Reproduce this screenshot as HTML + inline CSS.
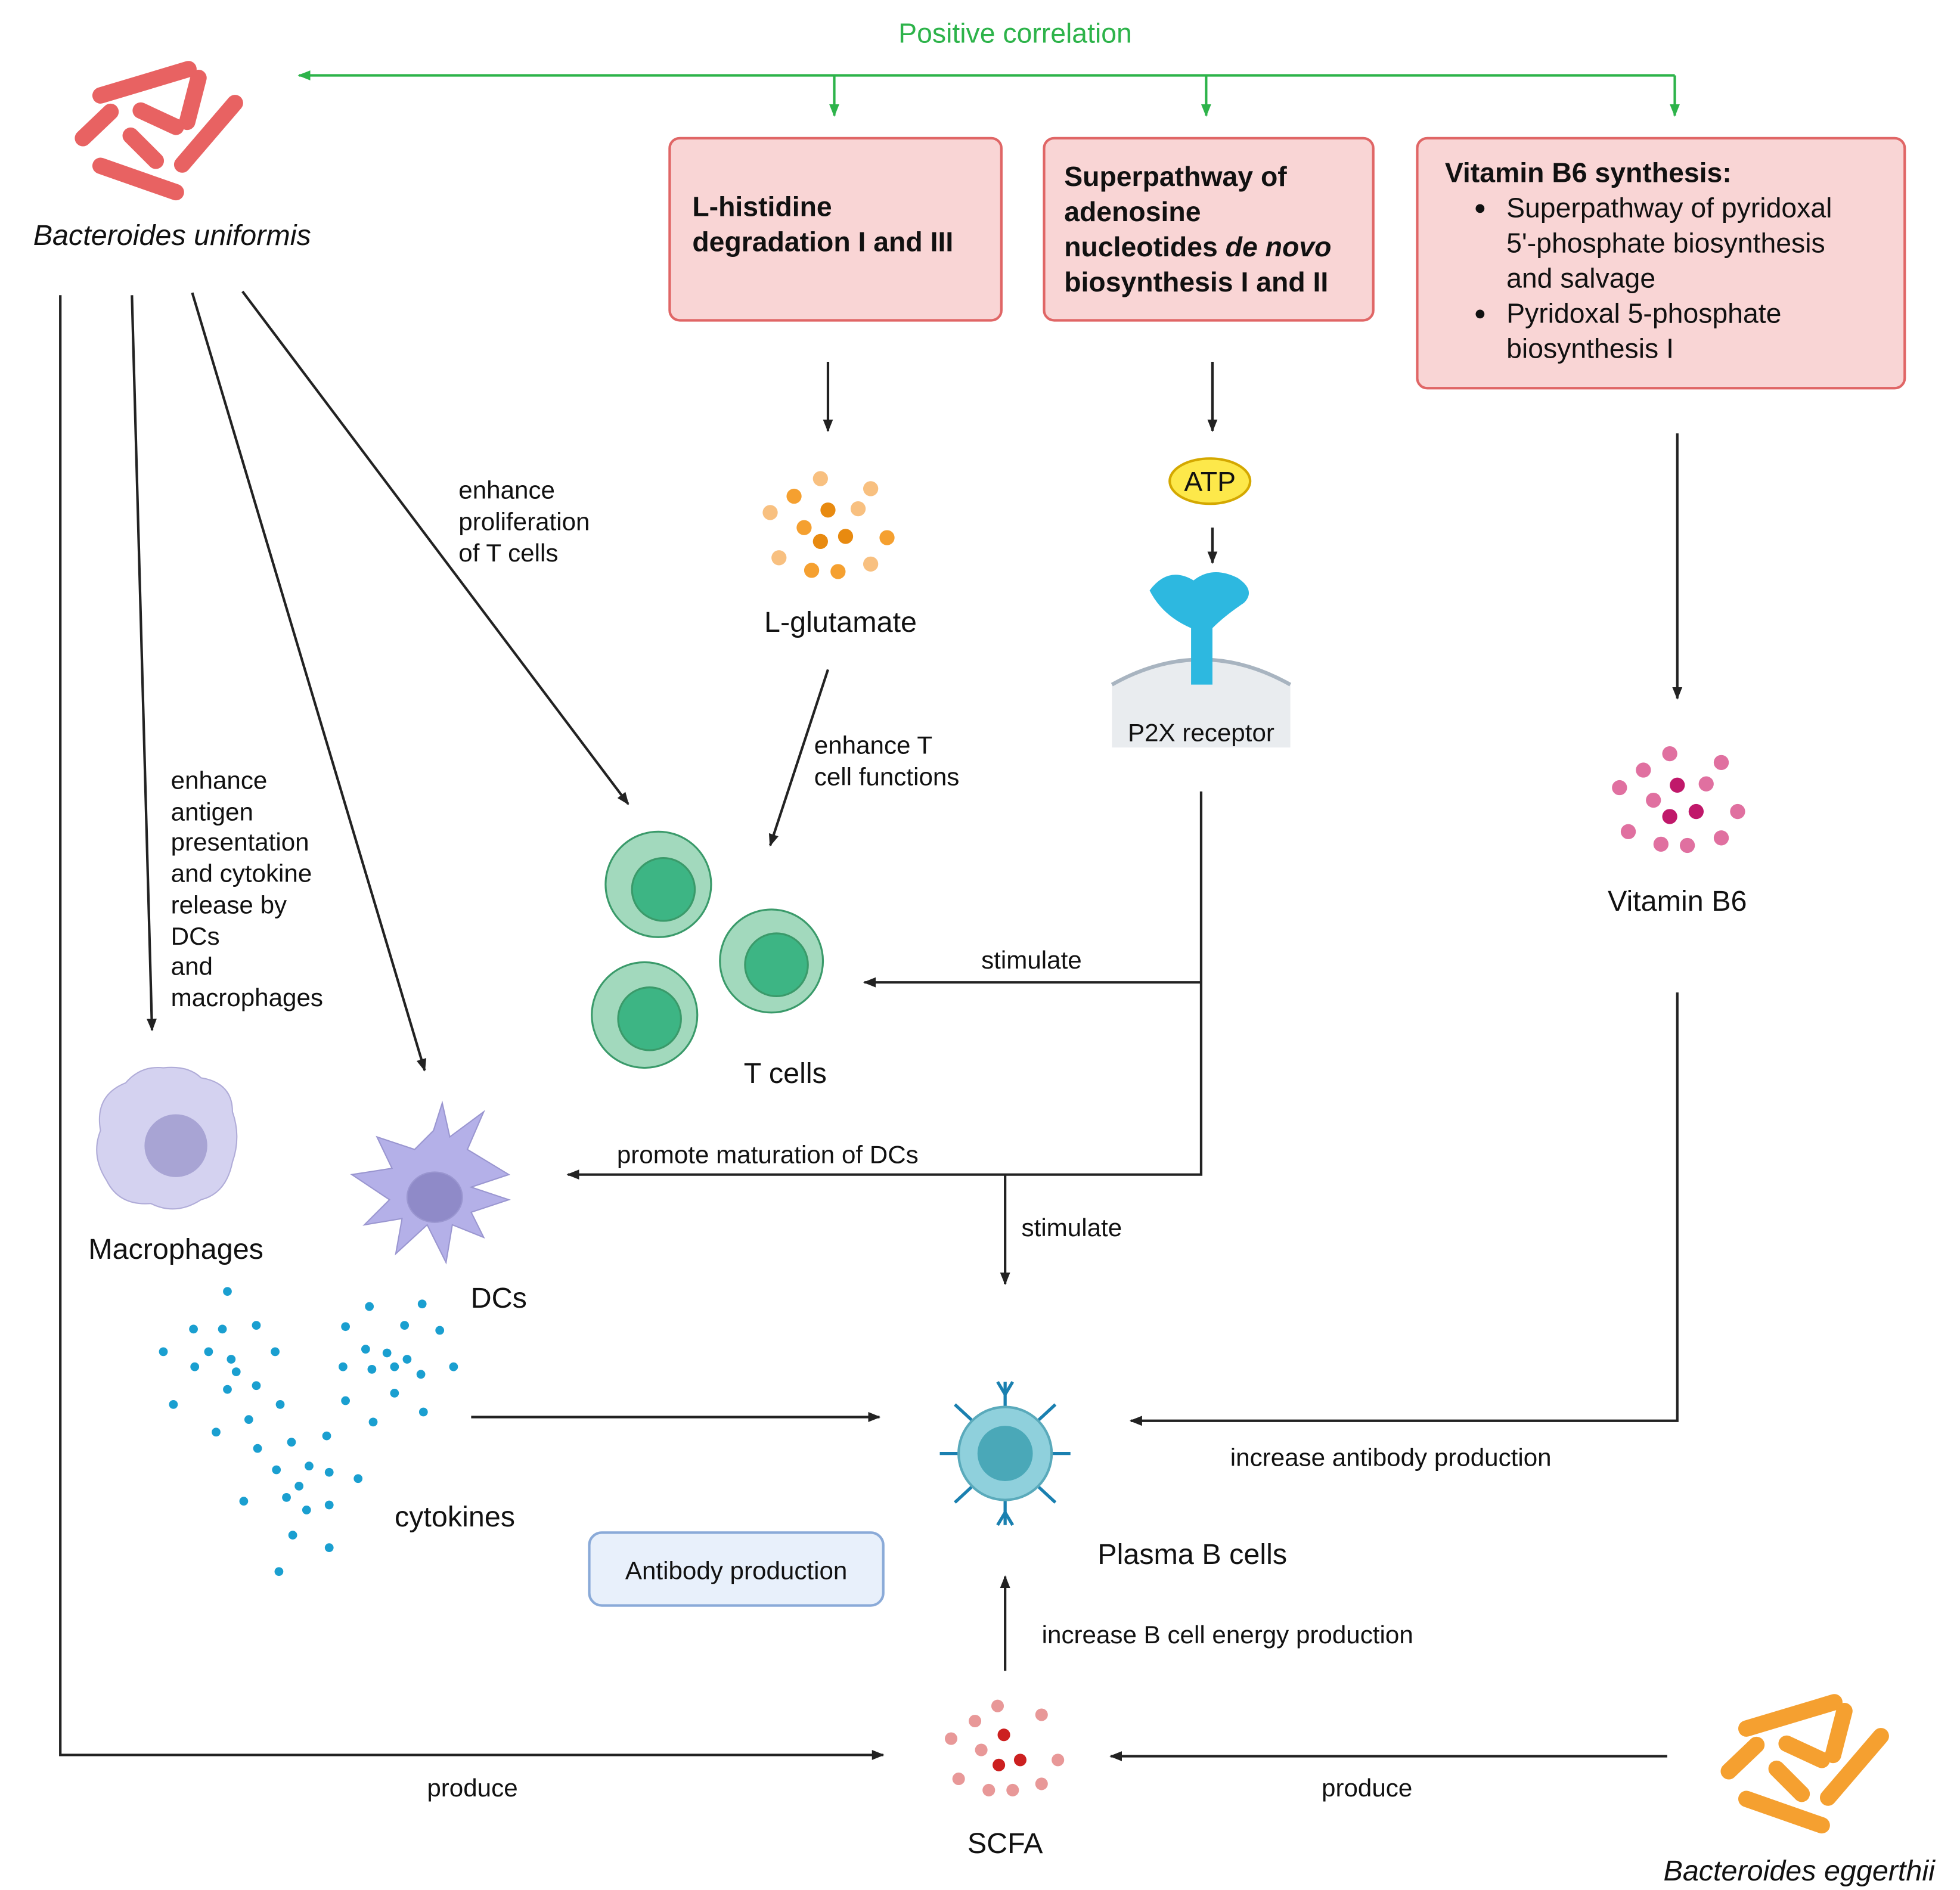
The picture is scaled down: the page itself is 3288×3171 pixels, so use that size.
<!DOCTYPE html>
<html><head><meta charset="utf-8"><style>html,body{margin:0;padding:0;background:#fff}svg{display:block}text{font-family:"Liberation Sans",sans-serif}</style></head><body>
<svg width="3288" height="3171" viewBox="0 0 1560 1504.5" xmlns="http://www.w3.org/2000/svg">
<defs>
<marker id="a" markerWidth="10" markerHeight="10" refX="9" refY="5" orient="auto" markerUnits="userSpaceOnUse"><path d="M0,1 L10,5 L0,9 Z" fill="#222"/></marker>
<marker id="g" markerWidth="10" markerHeight="10" refX="9" refY="5" orient="auto" markerUnits="userSpaceOnUse"><path d="M0,1 L10,5 L0,9 Z" fill="#2db34a"/></marker>
<g id="bac" stroke-linecap="round" stroke-width="13">
<line x1="168" y1="117" x2="303" y2="117" transform="rotate(0)"/>
</g>
</defs>
<rect width="1560" height="1504.5" fill="#fff"/>

<!-- green positive correlation -->
<text x="808" y="34" font-size="22" fill="#2db34a" text-anchor="middle">Positive correlation</text>
<g stroke="#2db34a" stroke-width="2" fill="none">
<line x1="1333" y1="60" x2="238" y2="60" marker-end="url(#g)"/>
<line x1="664" y1="60" x2="664" y2="92" marker-end="url(#g)"/>
<line x1="960" y1="60" x2="960" y2="92" marker-end="url(#g)"/>
<line x1="1333" y1="60" x2="1333" y2="92" marker-end="url(#g)"/>
</g>

<!-- bacteria -->
<g stroke="#e86262" stroke-width="13" stroke-linecap="round" fill="none">
<line x1="80" y1="76" x2="150" y2="55"/><line x1="158" y1="62" x2="149" y2="97"/>
<line x1="187" y1="82" x2="145" y2="131"/><line x1="66" y1="110" x2="88" y2="89"/>
<line x1="112" y1="88" x2="140" y2="101"/><line x1="104" y1="108" x2="124" y2="128"/>
<line x1="80" y1="132" x2="140" y2="153"/>
</g>
<text x="137" y="195" font-size="23" font-style="italic" text-anchor="middle" fill="#111">Bacteroides uniformis</text>
<g stroke="#f5a030" stroke-width="13" stroke-linecap="round" fill="none" transform="translate(1310,1300)">
<line x1="80" y1="76" x2="150" y2="55"/><line x1="158" y1="62" x2="149" y2="97"/>
<line x1="187" y1="82" x2="145" y2="131"/><line x1="66" y1="110" x2="88" y2="89"/>
<line x1="112" y1="88" x2="140" y2="101"/><line x1="104" y1="108" x2="124" y2="128"/>
<line x1="80" y1="132" x2="140" y2="153"/>
</g>
<text x="1432" y="1497" font-size="23" font-style="italic" text-anchor="middle" fill="#111">Bacteroides eggerthii</text>

<!-- boxes -->
<g fill="#f9d5d5" stroke="#e06666" stroke-width="2">
<rect x="533" y="110" width="264" height="145" rx="8"/>
<rect x="831" y="110" width="262" height="145" rx="8"/>
<rect x="1128" y="110" width="388" height="199" rx="8"/>
</g>
<g font-size="22" font-weight="bold" fill="#111">
<text x="551" y="172">L-histidine</text><text x="551" y="200">degradation I and III</text>
<text x="847" y="148">Superpathway of</text><text x="847" y="176">adenosine</text>
<text x="847" y="204">nucleotides <tspan font-style="italic">de novo</tspan></text><text x="847" y="232">biosynthesis I and II</text>
<text x="1150" y="145">Vitamin B6 synthesis:</text>
</g>
<g font-size="22" fill="#111">
<circle cx="1178" cy="166" r="3.5"/><circle cx="1178" cy="250" r="3.5"/>
<text x="1199" y="173">Superpathway of pyridoxal</text><text x="1199" y="201">5'-phosphate biosynthesis</text>
<text x="1199" y="229">and salvage</text><text x="1199" y="257">Pyridoxal 5-phosphate</text><text x="1199" y="285">biosynthesis I</text>
</g>

<!-- connectors -->
<g stroke="#222" stroke-width="2" fill="none">
<line x1="659" y1="288" x2="659" y2="343" marker-end="url(#a)"/>
<line x1="965" y1="288" x2="965" y2="343" marker-end="url(#a)"/>
<line x1="965" y1="420" x2="965" y2="448" marker-end="url(#a)"/>
<line x1="1335" y1="345" x2="1335" y2="556" marker-end="url(#a)"/>
<polyline points="48,235 48,1397 703,1397" marker-end="url(#a)"/>
<line x1="105" y1="235" x2="121" y2="820" marker-end="url(#a)"/>
<line x1="153" y1="233" x2="338" y2="852" marker-end="url(#a)"/>
<line x1="193" y1="232" x2="500" y2="640" marker-end="url(#a)"/>
<line x1="659" y1="533" x2="613" y2="673" marker-end="url(#a)"/>
<polyline points="956,630 956,935 452,935" marker-end="url(#a)"/>
<line x1="956" y1="782" x2="688" y2="782" marker-end="url(#a)"/>
<line x1="800" y1="935" x2="800" y2="1022" marker-end="url(#a)"/>
<line x1="375" y1="1128" x2="700" y2="1128" marker-end="url(#a)"/>
<polyline points="1335,790 1335,1131 900,1131" marker-end="url(#a)"/>
<line x1="800" y1="1330" x2="800" y2="1255" marker-end="url(#a)"/>
<line x1="1327" y1="1398" x2="884" y2="1398" marker-end="url(#a)"/>
</g>

<!-- labels -->
<g font-size="20" fill="#111">
<text x="365" y="397">enhance</text><text x="365" y="422">proliferation</text><text x="365" y="447">of T cells</text>
<text x="136" y="628">enhance</text><text x="136" y="653">antigen</text><text x="136" y="677">presentation</text><text x="136" y="702">and cytokine</text><text x="136" y="727">release by</text><text x="136" y="752">DCs</text><text x="136" y="776">and</text><text x="136" y="801">macrophages</text>
<text x="648" y="600">enhance T</text><text x="648" y="625">cell functions</text>
<text x="821" y="771" text-anchor="middle">stimulate</text>
<text x="611" y="926" text-anchor="middle">promote maturation of DCs</text>
<text x="853" y="984" text-anchor="middle">stimulate</text>
<text x="1107" y="1167" text-anchor="middle">increase antibody production</text>
<text x="977" y="1308" text-anchor="middle">increase B cell energy production</text>
<text x="376" y="1430" text-anchor="middle">produce</text>
<text x="1088" y="1430" text-anchor="middle">produce</text>
</g>
<g font-size="23" fill="#111" text-anchor="middle">
<text x="669" y="503">L-glutamate</text>
<text x="1335" y="725">Vitamin B6</text>
<text x="625" y="862">T cells</text>
<text x="140" y="1002">Macrophages</text>
<text x="397" y="1041">DCs</text>
<text x="362" y="1215">cytokines</text>
<text x="949" y="1245">Plasma B cells</text>
<text x="800" y="1475">SCFA</text>
</g>

<!-- ATP & receptor -->
<ellipse cx="963" cy="383" rx="32" ry="18" fill="#fde84a" stroke="#d4a800" stroke-width="2"/>
<text x="963" y="391" font-size="22" text-anchor="middle" fill="#111">ATP</text>
<path d="M885,545 Q956,505 1027,545 L1027,595 L885,595 Z" fill="#e9ecef"/>
<path d="M885,545 Q956,505 1027,545" stroke="#a8b4c0" stroke-width="3" fill="none"/>
<path d="M915,470 Q930,450 950,462 Q965,450 985,460 Q1000,470 990,480 Q975,490 965,500 L965,545 L948,545 L948,500 Q925,490 915,470 Z" fill="#2db8e0"/>
<text x="956" y="590" font-size="20" text-anchor="middle" fill="#111">P2X receptor</text>

<!-- L-glutamate dots -->
<g fill="#f5a030">
<circle cx="653" cy="381" r="6" fill="#f8c080"/><circle cx="693" cy="389" r="6" fill="#f8c080"/><circle cx="632" cy="395" r="6"/><circle cx="613" cy="408" r="6" fill="#f8c080"/><circle cx="659" cy="406" r="6" fill="#e88a10"/><circle cx="683" cy="405" r="6" fill="#f8c080"/><circle cx="640" cy="420" r="6"/><circle cx="653" cy="431" r="6" fill="#e88a10"/><circle cx="673" cy="427" r="6" fill="#e88a10"/><circle cx="706" cy="428" r="6"/><circle cx="620" cy="444" r="6" fill="#f8c080"/><circle cx="646" cy="454" r="6"/><circle cx="667" cy="455" r="6"/><circle cx="693" cy="449" r="6" fill="#f8c080"/>
</g>
<!-- Vitamin B6 dots -->
<g fill="#e070a0">
<circle cx="1329" cy="600" r="6"/><circle cx="1370" cy="607" r="6"/><circle cx="1308" cy="613" r="6"/><circle cx="1289" cy="627" r="6"/><circle cx="1335" cy="625" r="6" fill="#c0186a"/><circle cx="1358" cy="624" r="6"/><circle cx="1316" cy="637" r="6"/><circle cx="1329" cy="650" r="6" fill="#c0186a"/><circle cx="1350" cy="646" r="6" fill="#c0186a"/><circle cx="1383" cy="646" r="6"/><circle cx="1296" cy="662" r="6"/><circle cx="1322" cy="672" r="6"/><circle cx="1343" cy="673" r="6"/><circle cx="1370" cy="667" r="6"/>
</g>
<!-- T cells -->
<g stroke="#3a9a6a" stroke-width="1.5">
<circle cx="524" cy="704" r="42" fill="#a2d9bd"/><circle cx="528" cy="708" r="25" fill="#3db584"/>
<circle cx="614" cy="765" r="41" fill="#a2d9bd"/><circle cx="618" cy="768" r="25" fill="#3db584"/>
<circle cx="513" cy="808" r="42" fill="#a2d9bd"/><circle cx="517" cy="811" r="25" fill="#3db584"/>
</g>
<!-- macrophage -->
<path d="M130,850 Q150,848 160,858 Q185,862 185,885 Q192,905 185,925 Q180,950 160,955 Q140,968 120,958 Q95,960 85,940 Q72,920 80,900 Q75,872 100,862 Q112,848 130,850 Z" fill="#d4d2f0" stroke="#b0acd8"/>
<circle cx="140" cy="912" r="25" fill="#a8a4d4"/>
<!-- DC -->
<g fill="#b4b0e8" stroke="#9a96d0">
<path d="M345,900 L352,878 L358,905 L385,885 L372,915 L405,935 L375,945 L405,955 L375,965 L385,985 L360,975 L355,1005 L340,975 L315,998 L320,970 L290,975 L310,955 L280,935 L312,930 L300,905 L330,915 Z"/>
<ellipse cx="346" cy="953" rx="22" ry="20" fill="#8f8ac8"/>
</g>
<!-- cytokines -->
<g fill="#1a9fd0">
<circle cx="181" cy="1028" r="3.5"/><circle cx="154" cy="1058" r="3.5"/><circle cx="177" cy="1058" r="3.5"/><circle cx="204" cy="1055" r="3.5"/><circle cx="130" cy="1076" r="3.5"/><circle cx="166" cy="1076" r="3.5"/><circle cx="184" cy="1082" r="3.5"/><circle cx="219" cy="1076" r="3.5"/><circle cx="155" cy="1088" r="3.5"/><circle cx="188" cy="1092" r="3.5"/><circle cx="138" cy="1118" r="3.5"/><circle cx="181" cy="1106" r="3.5"/><circle cx="204" cy="1103" r="3.5"/><circle cx="172" cy="1140" r="3.5"/><circle cx="198" cy="1130" r="3.5"/><circle cx="223" cy="1118" r="3.5"/>
<circle cx="294" cy="1040" r="3.5"/><circle cx="336" cy="1038" r="3.5"/><circle cx="275" cy="1056" r="3.5"/><circle cx="322" cy="1055" r="3.5"/><circle cx="350" cy="1059" r="3.5"/><circle cx="291" cy="1074" r="3.5"/><circle cx="308" cy="1077" r="3.5"/><circle cx="324" cy="1082" r="3.5"/><circle cx="273" cy="1088" r="3.5"/><circle cx="296" cy="1090" r="3.5"/><circle cx="314" cy="1088" r="3.5"/><circle cx="335" cy="1094" r="3.5"/><circle cx="361" cy="1088" r="3.5"/><circle cx="314" cy="1109" r="3.5"/><circle cx="275" cy="1115" r="3.5"/><circle cx="337" cy="1124" r="3.5"/><circle cx="297" cy="1132" r="3.5"/>
<circle cx="205" cy="1153" r="3.5"/><circle cx="232" cy="1148" r="3.5"/><circle cx="260" cy="1143" r="3.5"/><circle cx="220" cy="1170" r="3.5"/><circle cx="246" cy="1167" r="3.5"/><circle cx="238" cy="1183" r="3.5"/><circle cx="262" cy="1172" r="3.5"/><circle cx="285" cy="1177" r="3.5"/><circle cx="194" cy="1195" r="3.5"/><circle cx="228" cy="1192" r="3.5"/><circle cx="244" cy="1202" r="3.5"/><circle cx="262" cy="1198" r="3.5"/><circle cx="233" cy="1222" r="3.5"/><circle cx="262" cy="1232" r="3.5"/><circle cx="222" cy="1251" r="3.5"/>
</g>
<!-- plasma B cell -->
<g stroke="#1a80b0" stroke-width="2.5" fill="none">
<path d="M800,1120 V1100 M794,1100 L800,1110 L806,1100"/><path d="M800,1194 V1214 M794,1214 L800,1204 L806,1214"/>
<path d="M764,1157 H748"/><path d="M836,1157 H852"/>
<path d="M774,1131 L760,1118"/><path d="M826,1131 L840,1118"/><path d="M774,1183 L760,1196"/><path d="M826,1183 L840,1196"/>
</g>
<circle cx="800" cy="1157" r="37" fill="#8fd0dc" stroke="#5aaabb" stroke-width="2"/>
<circle cx="800" cy="1157" r="22" fill="#4aa8b8"/>
<!-- SCFA -->
<g fill="#e89898">
<circle cx="794" cy="1358" r="5"/><circle cx="829" cy="1365" r="5"/><circle cx="776" cy="1370" r="5"/><circle cx="757" cy="1384" r="5"/><circle cx="799" cy="1381" r="5" fill="#cc2020"/><circle cx="781" cy="1393" r="5"/><circle cx="795" cy="1405" r="5" fill="#cc2020"/><circle cx="812" cy="1401" r="5" fill="#cc2020"/><circle cx="842" cy="1401" r="5"/><circle cx="763" cy="1416" r="5"/><circle cx="787" cy="1425" r="5"/><circle cx="806" cy="1425" r="5"/><circle cx="829" cy="1420" r="5"/>
</g>
<!-- Antibody production box -->
<rect x="469" y="1220" width="234" height="58" rx="10" fill="#e8f0fb" stroke="#8aaad8" stroke-width="2"/>
<text x="586" y="1257" font-size="20" text-anchor="middle" fill="#111">Antibody production</text>
</svg>
</body></html>
